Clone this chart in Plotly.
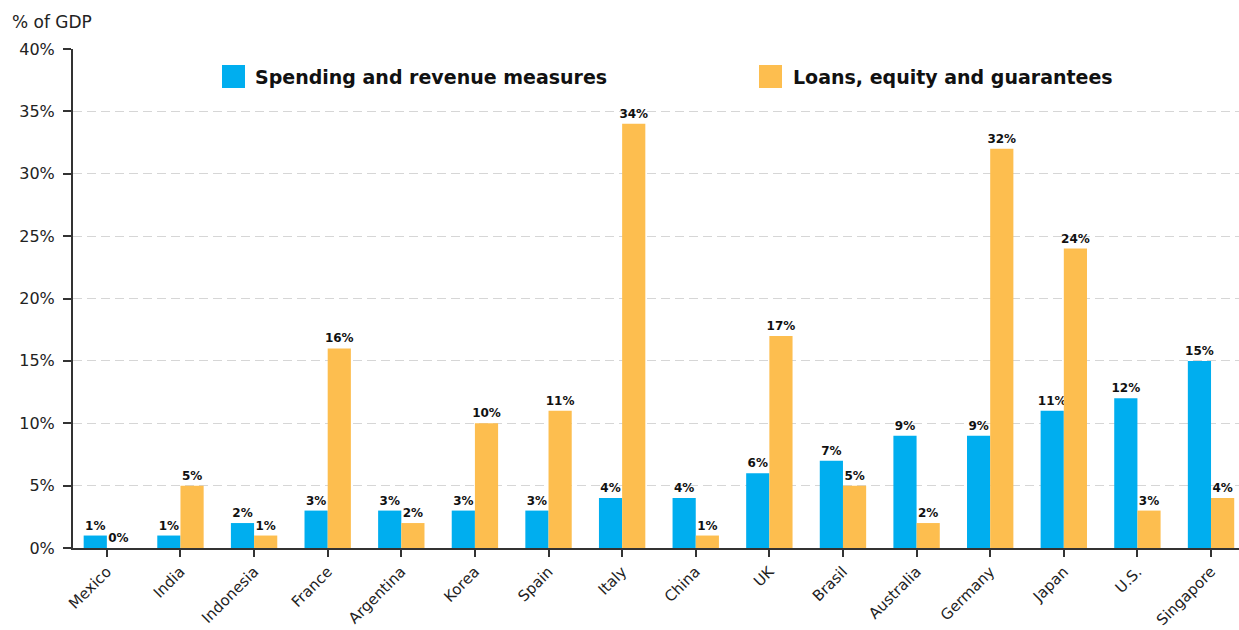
import plotly.graph_objects as go

# Fiscal response to COVID-19, % of GDP
countries = ["Mexico", "India", "Indonesia", "France", "Argentina", "Korea", "Spain",
             "Italy", "China", "UK", "Brasil", "Australia", "Germany", "Japan",
             "U.S.", "Singapore"]
spending = [1, 1, 2, 3, 3, 3, 3, 4, 4, 6, 7, 9, 9, 11, 12, 15]
loans = [0, 5, 1, 16, 2, 10, 11, 34, 1, 17, 5, 2, 32, 24, 3, 4]
series_names = ["Spending and revenue measures", "Loans, equity and guarantees"]
y_ticks = [0, 5, 10, 15, 20, 25, 30, 35, 40]

BLUE = "#00AEEF"
ORANGE = "#FDBE4F"
FONT = "DejaVu Sans"

fig = go.Figure()
for vals, name, color in [(spending, series_names[0], BLUE), (loans, series_names[1], ORANGE)]:
    fig.add_trace(go.Bar(
        x=list(range(len(countries))), y=vals, name=name,
        marker=dict(color=color, line=dict(width=0)),
        texttemplate="%{y:.0f}%", textposition="outside", constraintext="none",
        textfont=dict(family=FONT, size=12, color="#111", weight="bold"),
        cliponaxis=False, showlegend=False,
    ))

fig.update_layout(
    width=1239, height=630,
    margin=dict(l=73, r=0, t=49, b=82),
    barmode="group", bargap=0.37, bargroupgap=0,
    plot_bgcolor="white", paper_bgcolor="white",
    font=dict(family=FONT, color="#222"),
)
fig.update_xaxes(
    tickmode="array", tickvals=list(range(len(countries))), ticktext=countries,
    range=[-0.46, 15.38], tickangle=-45,
    tickfont=dict(size=15, family=FONT, color="#222"),
    showline=True, linecolor="#333", linewidth=2,
    ticks="outside", ticklen=7, tickwidth=2, tickcolor="#333",
    showgrid=False, zeroline=False, automargin=False,
)
fig.update_yaxes(
    range=[0, 40], tickvals=y_ticks, ticktext=[f"{v}%" for v in y_ticks],
    tickfont=dict(size=16, family=FONT, color="#222"),
    showline=True, linecolor="#333", linewidth=2,
    ticks="outside", ticklen=8, tickwidth=2, tickcolor="#333", ticklabelstandoff=5,
    showgrid=True, gridcolor="#d6d6d6", griddash="9px,5px", gridwidth=1,
    zeroline=False, automargin=False,
)

plot_w, plot_h = 1166, 499
def px_x(px):
    return (px - 73) / plot_w
def px_y(py):
    return (548 - py) / plot_h

# y-axis unit label
fig.add_annotation(text="% of GDP", xref="paper", yref="paper", x=px_x(10), y=px_y(22),
                   xanchor="left", yanchor="middle", showarrow=False,
                   font=dict(size=17, family=FONT, color="#222"))

# legend drawn as square swatches plus bold labels
for (sx, tx), name, color in [((222, 253), series_names[0], BLUE), ((759, 791), series_names[1], ORANGE)]:
    fig.add_shape(type="rect", xref="paper", yref="paper",
                  x0=px_x(sx), x1=px_x(sx + 23), y0=px_y(88), y1=px_y(65),
                  fillcolor=color, line=dict(width=0))
    fig.add_annotation(text=name, xref="paper", yref="paper", x=px_x(tx), y=px_y(77),
                       xanchor="left", yanchor="middle", showarrow=False,
                       font=dict(size=19, family=FONT, color="#111", weight="bold"))

fig.write_html("out.html")
